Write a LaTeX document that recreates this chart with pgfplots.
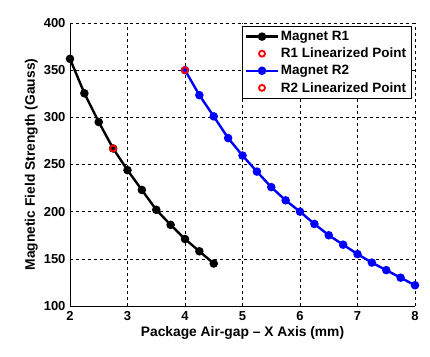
\documentclass[border=0pt]{standalone}
\usepackage{fontspec}
\setmainfont{Liberation Sans}
\usepackage{pgfplots}
\pgfplotsset{compat=1.18}
\begin{document}
\begin{tikzpicture}
\begin{axis}[
  width=345pt, height=283pt, scale only axis,
  xmin=2, xmax=8, ymin=100, ymax=400,
  xtick={2,3,...,8}, ytick={100,150,...,400},
  axis x line*=bottom, axis y line*=left,
  axis line style={-, line width=0.9pt},
  major tick length=0pt,
  grid=major,
  grid style={dashed, black, line width=0.6pt},
  /pgf/number format/assume math mode=true,
  tick label style={font=\bfseries\fontsize{13}{15}\selectfont},
  xticklabel style={yshift=-2pt},
  yticklabel style={xshift=-1pt},
  label style={font=\bfseries\fontsize{13.8}{16}\selectfont},
  xlabel={Package Air-gap -- X Axis (mm)},
  ylabel={Magnetic Field Strength (Gauss)},
  xlabel style={yshift=1pt},
  ylabel style={yshift=-1pt},
  legend style={at={(0.99,0.99)}, anchor=north east, draw=black, line width=0.8pt,
    font=\bfseries\fontsize{13.5}{15}\selectfont, row sep=2pt, inner sep=3pt},
  legend cell align=left,
  legend image code/.code={\draw[mark repeat=2,mark phase=2] plot coordinates {(0cm,0cm) (0.55cm,0cm) (1.1cm,0cm)};},
]
\addplot[black, line width=2.4pt, mark=*, mark size=3pt] coordinates {
(2,362) (2.25,325.5) (2.5,295) (2.75,267) (3,244) (3.25,223) (3.5,202) (3.75,186) (4,171) (4.25,158) (4.5,145)};
\addlegendentry{Magnet R1}
\addplot[only marks, red, mark=o, mark size=3pt, line width=1.8pt] coordinates {(2.75,267)};
\addlegendentry{R1 Linearized Point}
\addplot[blue, line width=2.4pt, mark=*, mark size=3pt] coordinates {
(4,350) (4.25,323.5) (4.5,301) (4.75,278) (5,259.5) (5.25,242.5) (5.5,226) (5.75,212) (6,200) (6.25,187) (6.5,175) (6.75,165) (7,155) (7.25,146) (7.5,138) (7.75,130) (8,122)};
\addlegendentry{Magnet R2}
\addplot[only marks, red, mark=o, mark size=3pt, line width=1.8pt] coordinates {(4,350)};
\addlegendentry{R2 Linearized Point}
\end{axis}
\path ([shift={(-70pt,-51pt)}]current axis.south west) rectangle ([shift={(15pt,23pt)}]current axis.north east);
\end{tikzpicture}
\end{document}
